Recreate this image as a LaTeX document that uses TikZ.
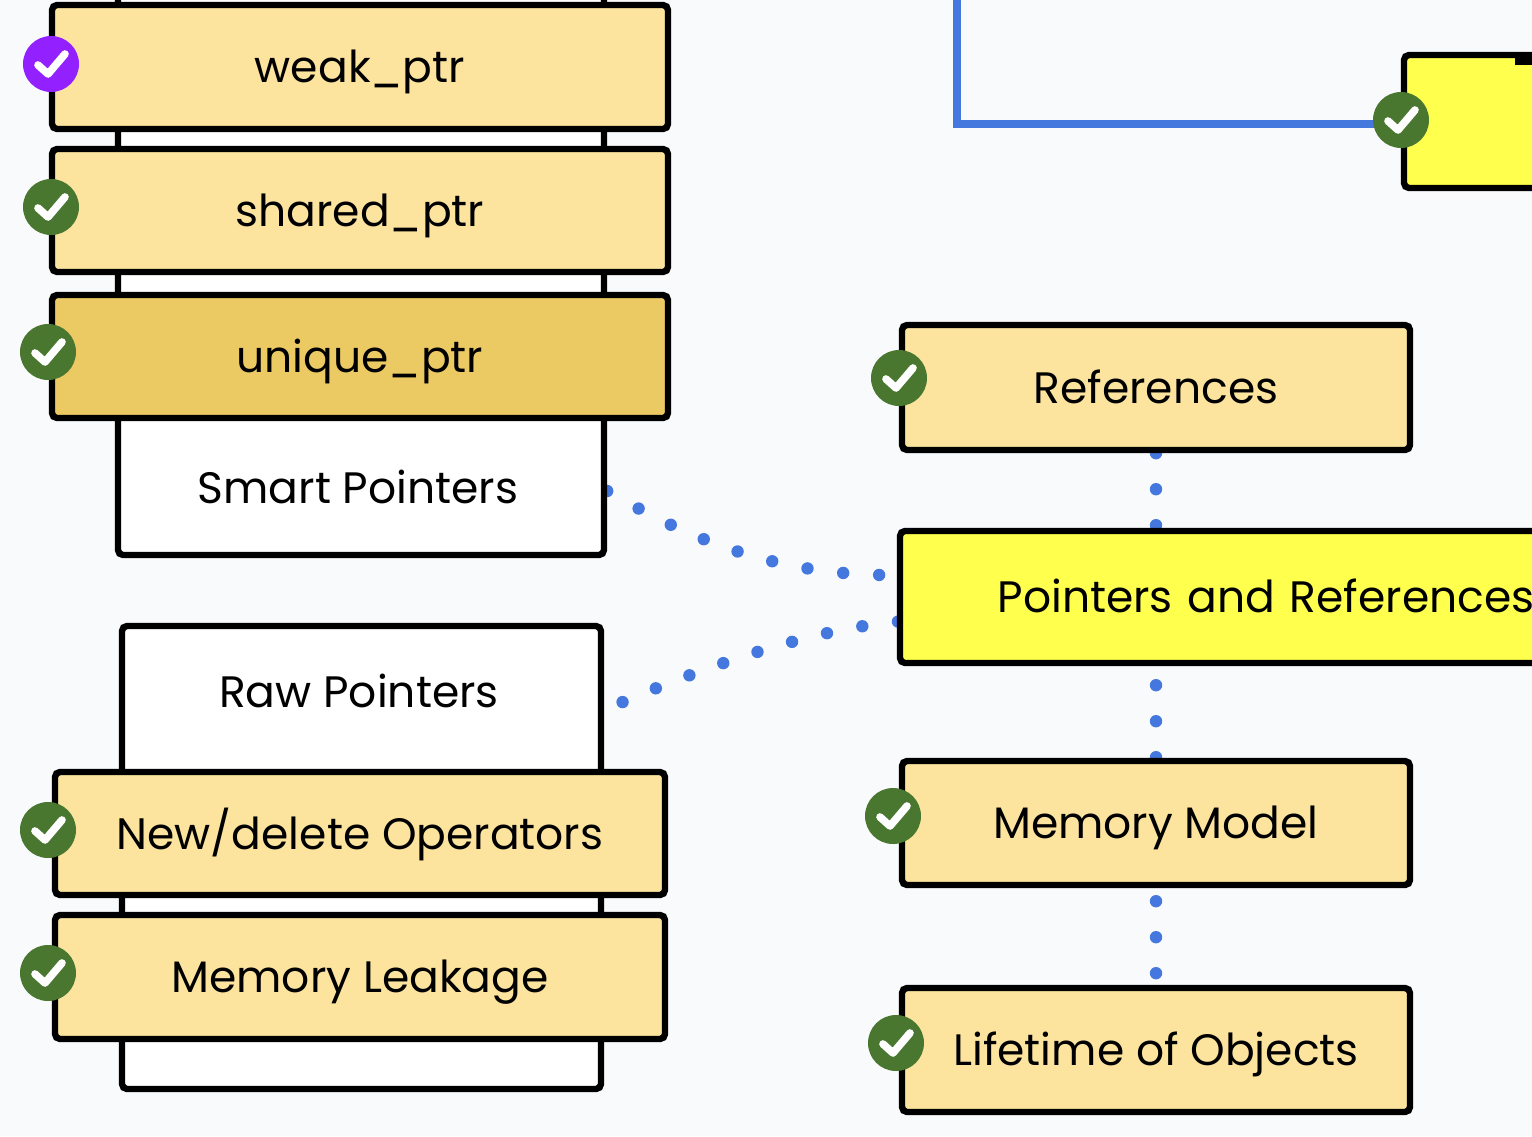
\documentclass[tikz,border=0pt]{standalone}
\usepackage{fontspec}
\setmainfont{Poppins}
\usetikzlibrary{backgrounds,calc}
\definecolor{pagebg}{HTML}{F9FAFC}
\definecolor{topicfill}{HTML}{FCE49F}
\definecolor{donefill}{HTML}{ECCA63}
\definecolor{mainfill}{HTML}{FFFF4D}
\definecolor{linkblue}{HTML}{4478DE}
\definecolor{okgreen}{HTML}{4A772F}
\definecolor{purplebadge}{HTML}{9320FF}
\tikzset{
  x=0.5pt,y=-0.5pt,
  boxbase/.style={draw=black,line width=3.2pt,rounded corners=2.5pt,inner sep=0pt,
    font=\fontsize{22}{26}\selectfont,text height=18pt,text depth=2.5pt,align=center},
  whitebox/.style={boxbase,fill=white},
  topicbox/.style={boxbase,fill=topicfill},
  donebox/.style={boxbase,fill=donefill},
  mainbox/.style={boxbase,fill=mainfill},
  boxtext/.style={inner sep=0pt,font=\fontsize{22}{26}\selectfont,text height=18pt,text depth=2.5pt},
  size/.style n args={2}{minimum width=#1*0.5pt,minimum height=#2*0.5pt},
  badge/.style={circle,draw=none,inner sep=0pt,minimum size=28pt},
  tick/.style={draw=white,line width=3.8pt,line cap=round,line join=round},
  dots/.style={draw=linkblue,line width=6.2pt,line cap=round,dash pattern=on 0pt off 18pt},
  solidlink/.style={draw=linkblue,line width=4.2pt,line join=miter},
}
\newcommand{\checkbadge}[4]{%
  \node[badge,fill=#4] (#1) at (#2,#3) {};
  \draw[tick] ($(#1.center)+(-13,1)$) -- ($(#1.center)+(-3,10)$) -- ($(#1.center)+(14,-10)$);
}
\begin{document}
\begin{tikzpicture}
\useasboundingbox (0,0) rectangle (1532,1136);
\clip (0,0) rectangle (1532,1136);

% tall boxes behind the stacks
\node[whitebox,size={486}{700}] (smartbox) at (361,205) {};
\node[whitebox,size={479}{463}] (rawbox) at (361.5,857.5) {};

% stacked topics
\node[topicbox,size={616}{124}] (weak) at (360,67) {weak\_ptr};
\node[topicbox,size={616}{123}] (shared) at (360,210.5) {shared\_ptr};
\node[donebox,size={616}{123}] (unique) at (360,356.5) {unique\_ptr};
\node[topicbox,size={610}{123}] (newdel) at (360,833.5) {New/delete Operators};
\node[topicbox,size={610}{124}] (leak) at (360,977) {Memory Leakage};
\node[boxtext] (smarttext) at (358,488) {Smart Pointers};
\node[boxtext] (rawtext) at (359,692) {Raw Pointers};

% right column
\node[topicbox,size={508}{125}] (refs) at (1156,387.5) {References};
\node[mainbox,size={732}{132},text width=366pt] (ptrs) at (1266,597) {Pointers and References};
\node[topicbox,size={508}{124}] (model) at (1156,823) {Memory Model};
\node[topicbox,size={508}{124}] (life) at (1156,1050) {Lifetime of Objects};
\node[mainbox,size={300}{133}] (topbox) at (1554,121.5) {};
\node[fill=black,inner sep=0pt,minimum width=15pt,minimum height=6.5pt] (topstub) at (1530,58.5) {};

% badges
\checkbadge{bweak}{51}{64}{purplebadge}
\checkbadge{bshared}{51}{207}{okgreen}
\checkbadge{bunique}{48}{352}{okgreen}
\checkbadge{bnew}{48}{830}{okgreen}
\checkbadge{bleak}{48}{973}{okgreen}
\checkbadge{brefs}{899}{378}{okgreen}
\checkbadge{bmodel}{893}{816}{okgreen}
\checkbadge{blife}{896}{1043}{okgreen}
\checkbadge{btop}{1401}{120}{okgreen}

\coordinate (bluetop) at (957,-10);
\coordinate (smartout) at (smartbox.east |- 0,491);
\coordinate (rawout) at (rawbox.east |- 0,710);

\begin{pgfonlayer}{background}
  \fill[pagebg] (0,0) rectangle (1532,1136);
  \draw[solidlink] (bluetop) |- ([yshift=-2pt]btop.center);
  \draw[dots] (smartout) .. controls (700,545) and (785,577) .. ([yshift=11pt,xshift=3pt]ptrs.west);
  \draw[dots,dash phase=8pt] (rawout) .. controls (700,668) and (813,628) .. ([yshift=-12pt,xshift=4pt]ptrs.west);
  \draw[dots] (refs.south) -- (refs.south |- ptrs.north);
  \draw[dots,dash phase=8.5pt] (ptrs.south -| model.north) -- (model.north);
  \draw[dots,dash phase=11.5pt] (model.south) -- (life.north);
\end{pgfonlayer}
\end{tikzpicture}
\end{document}
